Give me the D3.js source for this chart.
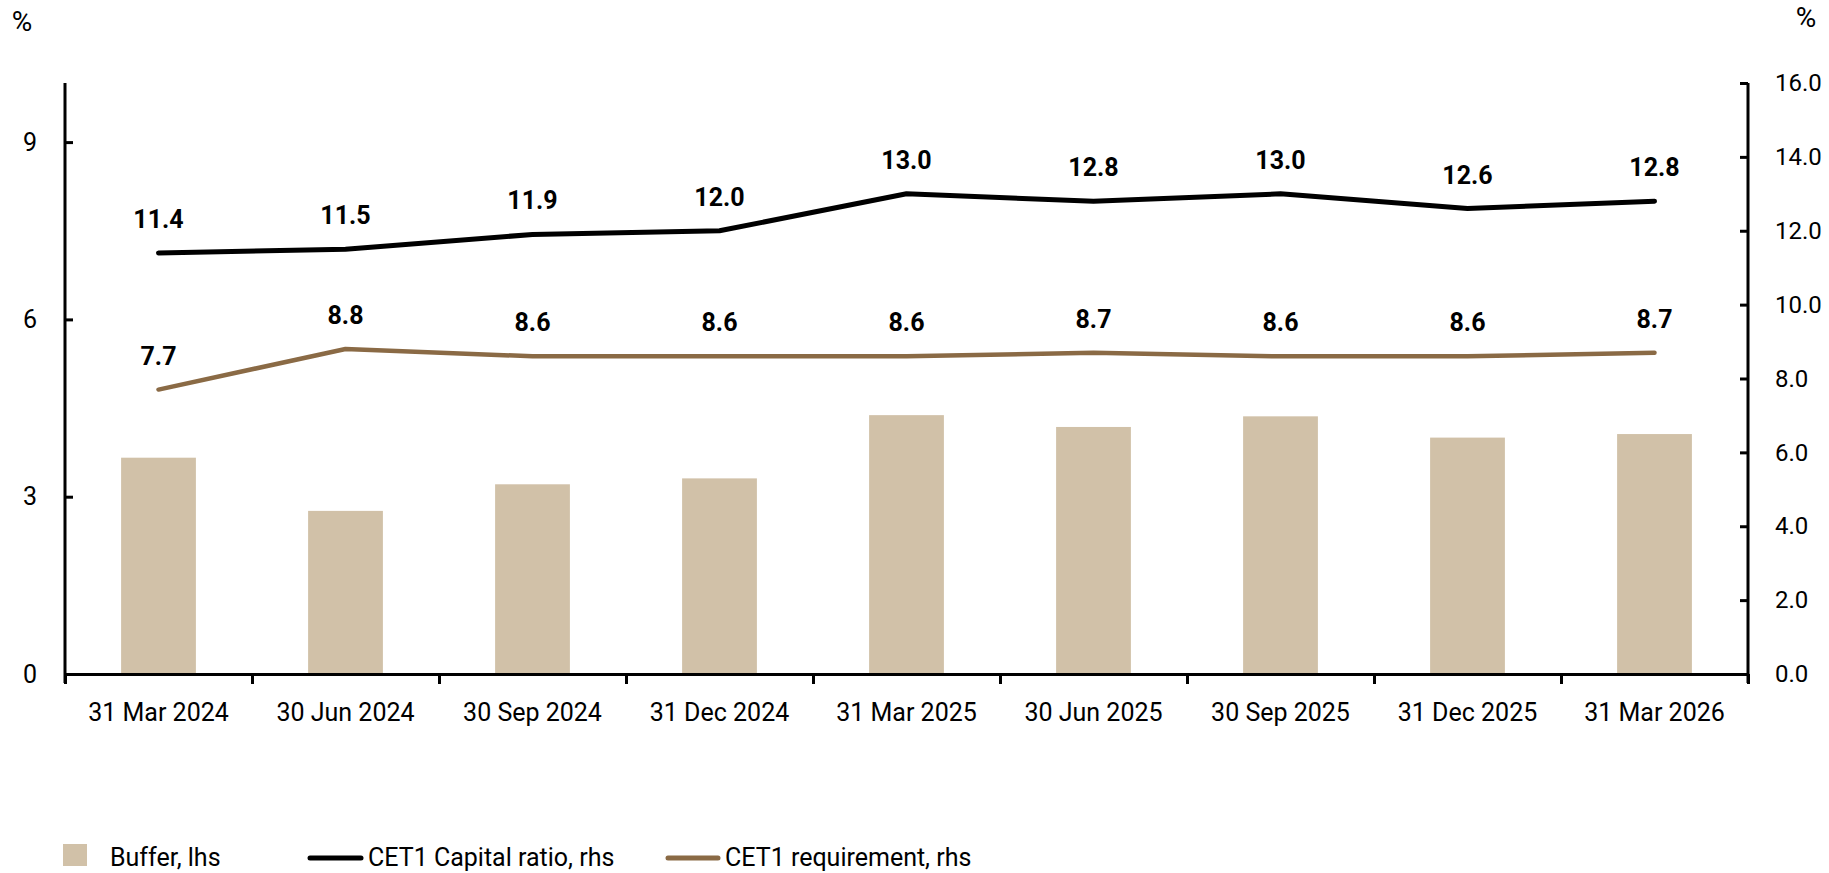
<!DOCTYPE html>
<html>
<head>
<meta charset="utf-8">
<script src="https://cdn.jsdelivr.net/npm/d3@7"></script>
<style>
  html, body { margin: 0; padding: 0; background: #fff; }
  svg { display: block; font-family: Roboto, "Liberation Sans", sans-serif; }
</style>
</head>
<body>
<svg id="chart" width="1829" height="873"></svg>
<script>
const categories = ["31 Mar 2024", "30 Jun 2024", "30 Sep 2024", "31 Dec 2024", "31 Mar 2025", "30 Jun 2025", "30 Sep 2025", "31 Dec 2025", "31 Mar 2026"];
const bufferLhs = [3.66, 2.76, 3.21, 3.31, 4.38, 4.18, 4.36, 4.00, 4.06];
const cet1Ratio = [11.4, 11.5, 11.9, 12.0, 13.0, 12.8, 13.0, 12.6, 12.8];
const cet1Requirement = [7.7, 8.8, 8.6, 8.6, 8.6, 8.7, 8.6, 8.6, 8.7];
const leftTicks = [0, 3, 6, 9];
const rightTicks = [0, 2, 4, 6, 8, 10, 12, 14, 16];
const seriesNames = ["Buffer, lhs", "CET1 Capital ratio, rhs", "CET1 requirement, rhs"];

(function () {
const colBar = "#D1C1A8", colRatio = "#000000", colReq = "#8A6A45";

const svg = d3.select("#chart");
const pLeft = 65, pRight = 1748, pTop = 83, pBottom = 674;

const x = d3.scaleBand().domain(categories).range([pLeft, pRight]).padding(0);
const xEdge = d3.scaleLinear().domain([0, categories.length]).range([pLeft, pRight]);
const yL = d3.scaleLinear().domain([0, 10]).range([pBottom, pTop]);
const yR = d3.scaleLinear().domain([0, 16]).range([pBottom, pTop]);

// bars
const barW = x.bandwidth() * 0.4;
svg.append("g").selectAll("rect").data(bufferLhs).join("rect")
  .attr("x", (d, i) => x(categories[i]) + x.bandwidth() / 2 - barW / 2)
  .attr("y", d => yL(d))
  .attr("width", barW)
  .attr("height", d => yL(0) - yL(d))
  .attr("fill", colBar);

// lines
const line = d3.line().x((d, i) => x(categories[i]) + x.bandwidth() / 2).y(d => yR(d));
svg.append("path").datum(cet1Requirement).attr("d", line)
  .attr("fill", "none").attr("stroke", colReq).attr("stroke-width", 4.5)
  .attr("stroke-linecap", "round").attr("stroke-linejoin", "round");
svg.append("path").datum(cet1Ratio).attr("d", line)
  .attr("fill", "none").attr("stroke", colRatio).attr("stroke-width", 5)
  .attr("stroke-linecap", "round").attr("stroke-linejoin", "round");

// data labels
function labels(data) {
  svg.append("g").selectAll("text").data(data).join("text")
    .attr("x", (d, i) => x(categories[i]) + x.bandwidth() / 2)
    .attr("y", d => yR(d) - 25)
    .attr("text-anchor", "middle")
    .attr("font-size", 25).attr("font-weight", 700).attr("fill", "#000")
    .text(d => d3.format(".1f")(d));
}
labels(cet1Ratio);
labels(cet1Requirement);

// axes
const axL = svg.append("g").attr("transform", `translate(${pLeft},0)`)
  .call(d3.axisLeft(yL).tickValues(leftTicks).tickFormat(d3.format("d"))
    .tickSizeInner(-8).tickSizeOuter(0).tickPadding(28));
axL.select(".domain").attr("d", `M0,${pTop}V${pBottom + 9}`);

const axR = svg.append("g").attr("transform", `translate(${pRight},0)`)
  .call(d3.axisRight(yR).tickValues(rightTicks).tickFormat(d3.format(".1f"))
    .tickSizeInner(-8).tickSizeOuter(0).tickPadding(27));
axR.select(".domain").attr("d", `M0,${pTop}V${pBottom + 9}`);

const axB = svg.append("g").attr("transform", `translate(0,${pBottom})`)
  .call(d3.axisBottom(xEdge).tickValues(d3.range(categories.length + 1)).tickFormat("")
    .tickSizeInner(10).tickSizeOuter(0));

const axBL = svg.append("g").attr("transform", `translate(0,${pBottom})`)
  .call(d3.axisBottom(x).tickSize(0).tickPadding(29));
axBL.select(".domain").remove();

[axL, axR, axB].forEach(g => {
  g.selectAll(".domain").attr("stroke", "#000").attr("stroke-width", 3);
  g.selectAll(".tick line").attr("stroke", "#000").attr("stroke-width", 3);
});
axL.selectAll("text").attr("font-size", 25).attr("fill", "#000").attr("font-family", "Roboto");
axR.selectAll("text").attr("font-size", 24).attr("fill", "#000").attr("font-family", "Roboto");
axBL.selectAll("text").attr("font-size", 25).attr("fill", "#000").attr("font-family", "Roboto");

// unit labels
svg.append("text").attr("x", 22).attr("y", 31).attr("text-anchor", "middle")
  .attr("font-size", 28).text("%");
svg.append("text").attr("x", 1806).attr("y", 27).attr("text-anchor", "middle")
  .attr("font-size", 28).text("%");

// legend
const lg = svg.append("g").attr("font-size", 25);
lg.append("rect").attr("x", 63).attr("y", 844).attr("width", 24).attr("height", 22).attr("fill", colBar);
lg.append("text").attr("x", 110).attr("y", 866).text(seriesNames[0]);
lg.append("line").attr("x1", 310).attr("x2", 361).attr("y1", 858).attr("y2", 858)
  .attr("stroke", colRatio).attr("stroke-width", 5).attr("stroke-linecap", "round");
lg.append("text").attr("x", 368).attr("y", 866).text(seriesNames[1]);
lg.append("line").attr("x1", 668).attr("x2", 718).attr("y1", 858).attr("y2", 858)
  .attr("stroke", colReq).attr("stroke-width", 5).attr("stroke-linecap", "round");
lg.append("text").attr("x", 725).attr("y", 866).text(seriesNames[2]);
})();
</script>
</body>
</html>
